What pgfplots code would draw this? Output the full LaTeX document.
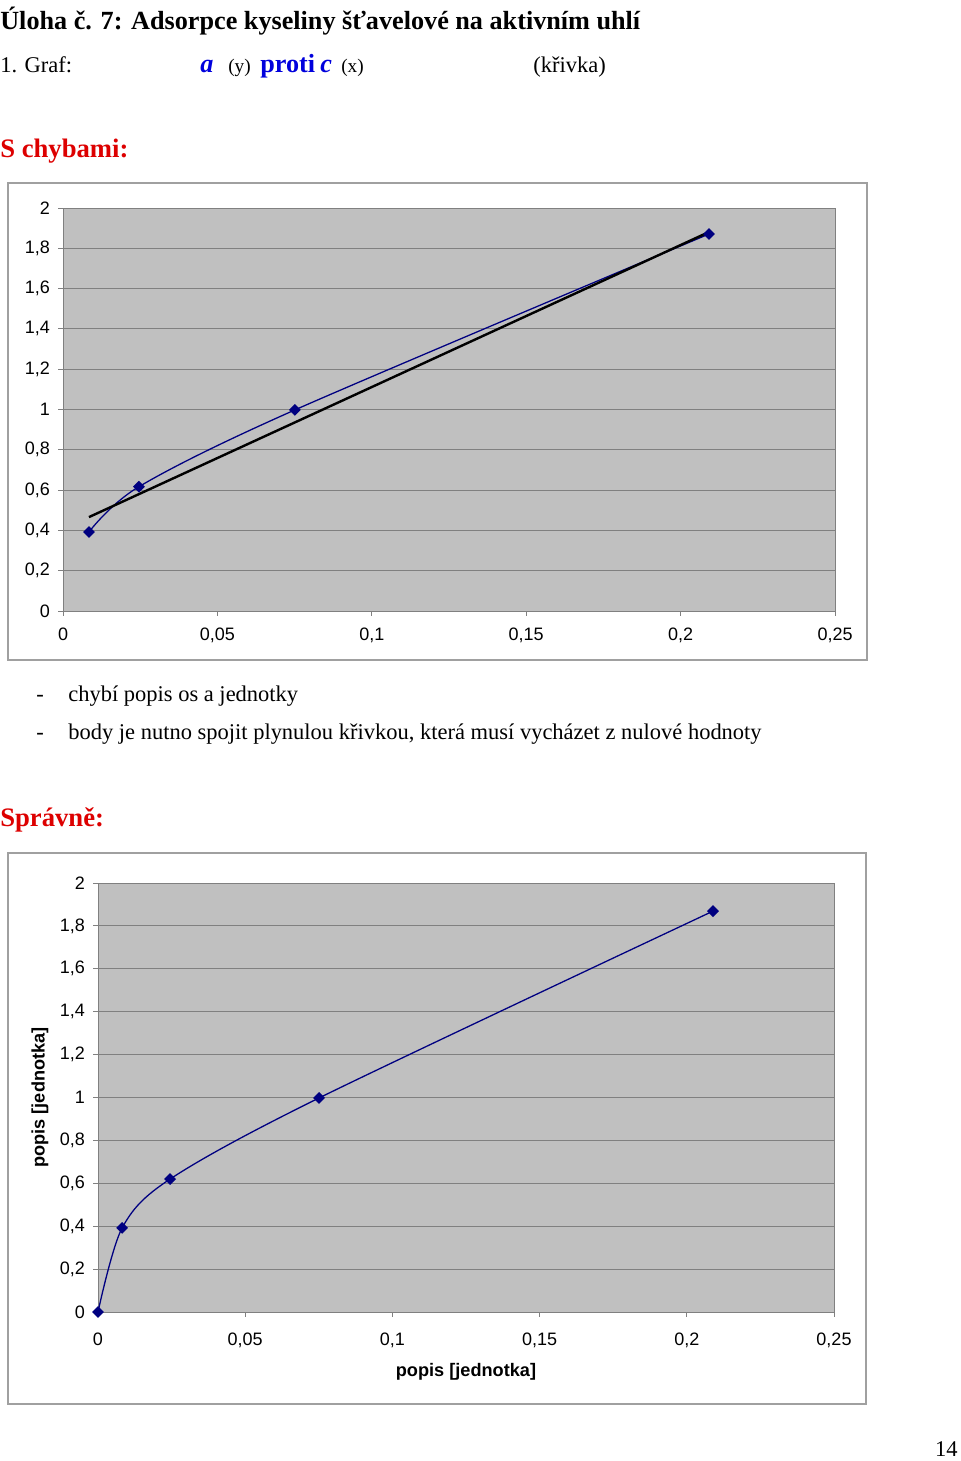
\documentclass[border=0pt]{standalone}
\usepackage{fontspec}
\setmainfont{Liberation Serif}
\newfontfamily\arial{Liberation Sans}
\usepackage{pgfplots}
\pgfplotsset{compat=1.18}

\definecolor{plotgray}{HTML}{C0C0C0}
\definecolor{gridgray}{HTML}{808080}
\definecolor{framegray}{HTML}{A0A0A0}
\definecolor{navy}{HTML}{000080}
\definecolor{headred}{HTML}{DD0000}
\definecolor{textblue}{HTML}{0000DD}

% Excel-like chart look
\pgfplotsset{excel/.style={
    scale only axis,
    xmin=0, xmax=0.25, ymin=0, ymax=2,
    xtick={0,0.05,0.1,0.15,0.2,0.25},
    xticklabels={0,{0,05},{0,1},{0,15},{0,2},{0,25}},
    ytick={0,0.2,0.4,0.6,0.8,1,1.2,1.4,1.6,1.8,2},
    yticklabels={0,{0,2},{0,4},{0,6},{0,8},1,{1,2},{1,4},{1,6},{1,8},2},
    axis background/.style={fill=plotgray},
    ymajorgrids,
    major grid style={gridgray, line width=0.6pt},
    axis line style={gridgray, line width=0.6pt},
    tick style={gridgray, line width=0.6pt},
    tick align=outside, tick pos=left,
    major tick length=3pt,
    ticklabel style={font=\arial\fontsize{11.2}{13}\selectfont},
    clip=false,
  },
  series/.style={navy, line width=0.8pt, smooth, tension=0.5,
    mark=square*, mark size=2.2pt, mark options={solid, fill=navy, rotate=45}},
}

\begin{document}
\begin{tikzpicture}[x=0.6225pt, y=-0.6225pt]
\fill[white] (0,0) rectangle (960,1461);

% page text
\node[anchor=base west, inner sep=0pt, font=\fontsize{16.3}{19}\selectfont\bfseries] at (0,30)
  {Úloha č. 7: Adsorpce kyseliny šťavelové na aktivním uhlí};
\node[anchor=base west, inner sep=0pt, font=\fontsize{14}{17}\selectfont] at (0,73) {1. Graf:};
\node[anchor=base west, inner sep=0pt, font=\fontsize{16.3}{19}\selectfont\bfseries\itshape, text=textblue] at (200,73) {a};
\node[anchor=base west, inner sep=0pt, font=\fontsize{12}{14}\selectfont] at (228,73) {(y)};
\node[anchor=base west, inner sep=0pt, font=\fontsize{16.3}{19}\selectfont\bfseries, text=textblue] at (260,73) {proti};
\node[anchor=base west, inner sep=0pt, font=\fontsize{16.3}{19}\selectfont\bfseries\itshape, text=textblue] at (320,73) {c};
\node[anchor=base west, inner sep=0pt, font=\fontsize{12}{14}\selectfont] at (341,73) {(x)};
\node[anchor=base west, inner sep=0pt, font=\fontsize{14}{17}\selectfont] at (533,73) {(křivka)};
\node[anchor=base west, inner sep=0pt, font=\fontsize{16.6}{20}\selectfont\bfseries, text=headred] at (0,158) {S chybami:};
\node[anchor=base west, inner sep=0pt, font=\fontsize{14}{17}\selectfont] at (36,701) {-};
\node[anchor=base west, inner sep=0pt, font=\fontsize{14}{17}\selectfont] at (68,701) {chybí popis os a jednotky};
\node[anchor=base west, inner sep=0pt, font=\fontsize{14}{17}\selectfont] at (36,739) {-};
\node[anchor=base west, inner sep=0pt, font=\fontsize{14}{17}\selectfont] at (68,739)
  {body je nutno spojit plynulou křivkou, která musí vycházet z nulové hodnoty};
\node[anchor=base west, inner sep=0pt, font=\fontsize{16.6}{20}\selectfont\bfseries, text=headred] at (0,826) {Správně:};
\node[anchor=base east, inner sep=0pt, font=\fontsize{14}{17}\selectfont] at (958,1456) {14};

% chart frames
\draw[framegray, line width=0.7pt] (8,183) rectangle (867,660);
\draw[framegray, line width=0.7pt] (8,853) rectangle (866,1404);

% chart with errors
\begin{axis}[excel,
    at={(39.22pt,-380.35pt)}, anchor=south west,
    width=480.57pt, height=250.87pt,
    yticklabel style={anchor=east, inner sep=0pt, xshift=-5pt},
    xticklabel style={anchor=north, inner sep=0pt, yshift=-7.6pt},
  ]
  \addplot[series] coordinates {
    (0.0084,0.392) (0.0246,0.617) (0.0751,0.998) (0.2092,1.871)
  };
  \addplot[black, line width=1.5pt] coordinates {(0.0084,0.466) (0.2092,1.881)};
\end{axis}

% correct chart
\begin{axis}[excel,
    at={(61.0pt,-816.72pt)}, anchor=south west,
    width=458.16pt, height=267.05pt,
    yticklabel style={anchor=east, inner sep=0pt, xshift=-5pt},
    xticklabel style={anchor=north, inner sep=0pt, yshift=-9.6pt},
  ]
  \addplot[series] coordinates {
    (0,0) (0.0082,0.392) (0.0245,0.620) (0.0751,0.998) (0.2089,1.869)
  };
  \node[font=\arial\bfseries\fontsize{11.3}{13}\selectfont, anchor=center]
    at ([yshift=-37.5pt]axis description cs:0.5,0) {popis [jednotka]};
  \node[font=\arial\bfseries\fontsize{11.3}{13}\selectfont, anchor=center, rotate=90]
    at ([xshift=-36.1pt]axis description cs:0,0.5) {popis [jednotka]};
\end{axis}
\end{tikzpicture}
\end{document}
